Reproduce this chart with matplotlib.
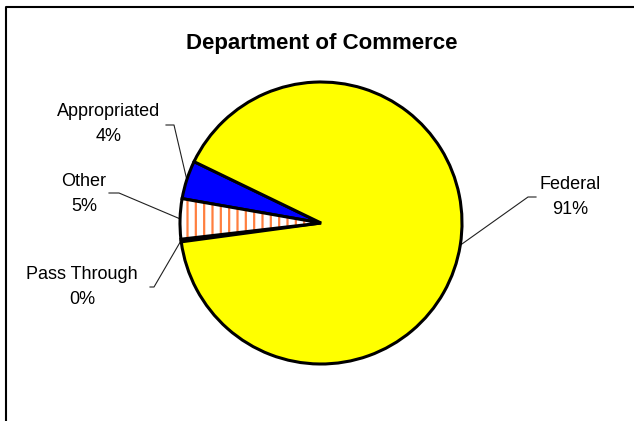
"""Department of Commerce funding split, drawn as a pie."""
import matplotlib.pyplot as plt
import numpy as np
from matplotlib.patches import Wedge

labels = ["Appropriated", "Other", "Pass Through", "Federal"]
shares = [4.4, 4.6, 0.3, 90.7]
colors = ["#0000FF", "#FFFFFF", "#000000", "#FFFF00"]

W, H = 634, 421
CX, CY, R = 321, H - 223, 141

# label centre, elbow point, label-side end of the leader (pixel coords, y down)
label_pos = {
    "Appropriated": ((109, 124), (174, 125), (166, 125)),
    "Other": ((84, 194), (119, 193), (109, 193)),
    "Pass Through": ((82, 287), (154, 287), (150, 287)),
    "Federal": ((570, 197), (528, 197), (536, 197)),
}

plt.rcParams["font.family"] = ["Liberation Sans", "DejaVu Sans"]
plt.rcParams["hatch.linewidth"] = 1.6

fig = plt.figure(figsize=(W / 100, H / 100), dpi=100)
ax = fig.add_axes([0, 0, 1, 1])

wedges, _ = ax.pie(
    shares, colors=colors, startangle=154.2, center=(CX, CY), radius=R,
    wedgeprops=dict(edgecolor="black", linewidth=2.2), frame=True,
)
ax.set_xlim(0, W)
ax.set_ylim(0, H)
ax.set_aspect("equal")
ax.axis("off")

# striped "Other" slice: orange hatching under a black outline
other = wedges[labels.index("Other")]
stripes = Wedge((CX, CY), R, other.theta1, other.theta2, facecolor="white",
                edgecolor="#FF7F3F", hatch="||", linewidth=0, zorder=other.get_zorder())
ax.add_patch(stripes)
other.set_facecolor("none")
other.set_zorder(stripes.get_zorder() + 0.1)

for w, name, val in zip(wedges, labels, shares):
    (tx, ty), (ex, ey), (sx, sy) = label_pos[name]
    mid = np.deg2rad((w.theta1 + w.theta2) / 2)
    px, py = CX + R * np.cos(mid), CY + R * np.sin(mid)
    ax.plot([sx, ex, px], [H - sy, H - ey, py], color="#202020", lw=0.8, zorder=0.5)
    ax.text(tx, H - ty, f"{name}\n{val:.0f}%", ha="center", va="center",
            fontsize=13, linespacing=1.6)

ax.text(322, H - 43, "Department of Commerce", ha="center", va="center",
        fontsize=16, fontweight="bold")

# chart frame (only top and left edges fall inside the picture)
ax.plot([5.5, 5.5, W], [0, H - 6.5, H - 6.5], color="black", lw=1.5, clip_on=False)

fig.savefig("out.png", dpi=100)
